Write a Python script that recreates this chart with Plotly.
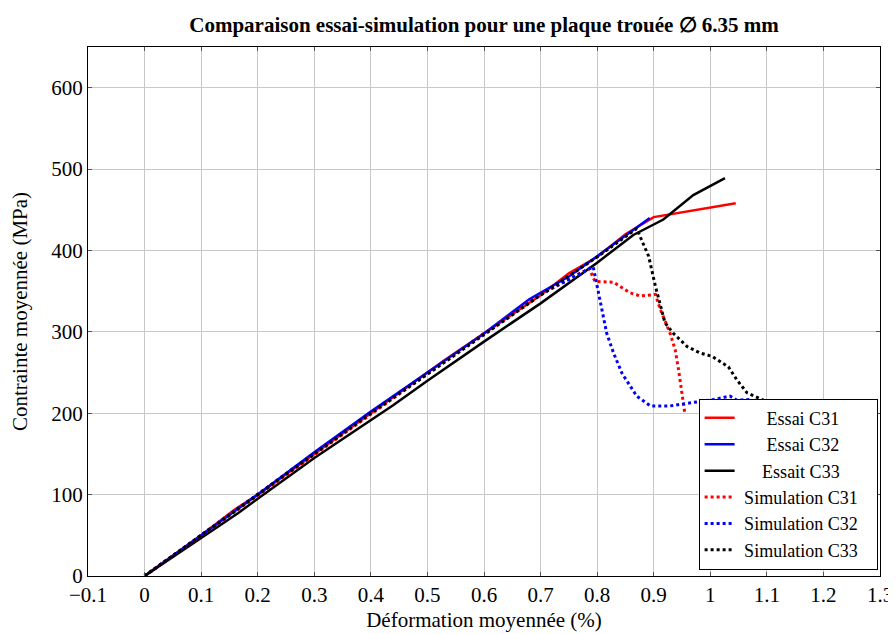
import plotly.graph_objects as go

# données (déformation en %, contrainte en MPa)
essai_c31_x = [0, 0.05, 0.1, 0.16, 0.2, 0.3, 0.4, 0.5, 0.53, 0.6, 0.7, 0.75, 0.8, 0.85, 0.9, 1.045]
essai_c31_y = [0, 25, 50, 82, 100, 150, 200, 250, 265, 298, 345, 372, 392, 420, 441, 458]

essai_c32_x = [0, 0.1, 0.2, 0.3, 0.4, 0.5, 0.6, 0.68, 0.75, 0.8, 0.85, 0.893]
essai_c32_y = [0, 50, 100, 152, 202, 250, 298, 340, 368, 393, 418, 440]

essai_c33_x = [0, 0.1, 0.165, 0.2, 0.3, 0.44, 0.5, 0.6, 0.7, 0.8, 0.864, 0.917, 0.97, 1.026]
essai_c33_y = [0, 47, 77, 95, 145, 210, 240, 288, 335, 385, 419, 438, 468, 489]

sim_c31_x = [0, 0.1, 0.2, 0.3, 0.4, 0.5, 0.6, 0.7, 0.786, 0.796, 0.829, 0.858, 0.876,
             0.903, 0.912, 0.929, 0.938, 0.944, 0.950, 0.955]
sim_c31_y = [0, 49, 99, 149, 199, 248, 298, 346, 378, 362, 361, 348, 344,
             346, 327, 298, 278, 253, 225, 200]

sim_c32_x = [0, 0.1, 0.2, 0.3, 0.4, 0.5, 0.6, 0.7, 0.793, 0.802, 0.817, 0.829, 0.844,
             0.870, 0.894, 0.929, 0.970, 1.006, 1.035, 1.047, 1.071]
sim_c32_y = [0, 50, 100, 151, 201, 249, 298, 346, 380, 348, 298, 274, 249,
             221, 209, 209, 213, 217, 221, 216, 217]

sim_c33_x = [0, 0.1, 0.2, 0.3, 0.4, 0.5, 0.6, 0.7, 0.8, 0.87, 0.876, 0.891, 0.903, 0.912,
             0.920, 0.935, 0.959, 0.982, 1.003, 1.032, 1.047, 1.065, 1.094]
sim_c33_y = [0, 50, 100, 150, 200, 248, 297, 345, 392, 427, 417, 393, 356, 331,
             311, 298, 282, 274, 270, 257, 241, 225, 216]

nb = "\u00a0"  # espaces insécables pour centrer les noms dans la légende
series = [
    (nb * 6 + "Essai C31", essai_c31_x, essai_c31_y, "#ff0000", "solid"),
    (nb * 6 + "Essai C32", essai_c32_x, essai_c32_y, "#0000ff", "solid"),
    (nb * 5 + "Essait C33", essai_c33_x, essai_c33_y, "#000000", "solid"),
    (nb + "Simulation C31" + nb * 3, sim_c31_x, sim_c31_y, "#ff0000", "dot"),
    (nb + "Simulation C32" + nb * 3, sim_c32_x, sim_c32_y, "#0000ff", "dot"),
    (nb + "Simulation C33" + nb * 3, sim_c33_x, sim_c33_y, "#000000", "dot"),
]

serif = "Liberation Serif"

fig = go.Figure()
for name, x, y, col, dash in series:
    fig.add_trace(go.Scatter(x=x, y=y, mode="lines", name=name,
                             line=dict(color=col, dash=dash, width=2.5 if dash == "solid" else 3)))

axis_style = dict(showgrid=True, gridcolor="#c8c8c8", gridwidth=1, zeroline=False,
                  showline=True, linecolor="black", linewidth=1.2, mirror="ticks",
                  ticks="inside", ticklen=4, tickcolor="#555555", automargin=False,
                  tickfont=dict(family=serif, size=21, color="black"))

# la page ajoute 8 px de marge autour de la figure
fig.update_layout(
    width=888, height=626,
    margin=dict(l=80, r=16, t=39, b=58),
    paper_bgcolor="white", plot_bgcolor="white",
    font=dict(family=serif, color="black"),
    title=dict(text="<b>Comparaison essai-simulation pour une plaque trouée ∅ 6.35 mm</b>",
               x=0.5, xref="paper", xanchor="center", y=0.985, yanchor="top",
               font=dict(family=serif, size=21, color="black")),
    xaxis=dict(range=[-0.1, 1.3], dtick=0.1, tick0=0,
               title=dict(text="Déformation moyennée (%)", font=dict(family=serif, size=21), standoff=6),
               **axis_style),
    yaxis=dict(range=[0, 650], dtick=100, tick0=0,
               title=dict(text="Contrainte moyennée (MPa)", font=dict(family=serif, size=21), standoff=20),
               **axis_style),
    legend=dict(x=0.997, y=0.012, xanchor="right", yanchor="bottom",
                bgcolor="white", bordercolor="black", borderwidth=1,
                font=dict(family=serif, size=18, color="black"),
                tracegroupgap=0, itemwidth=30),
)

fig.write_html("out.html")
